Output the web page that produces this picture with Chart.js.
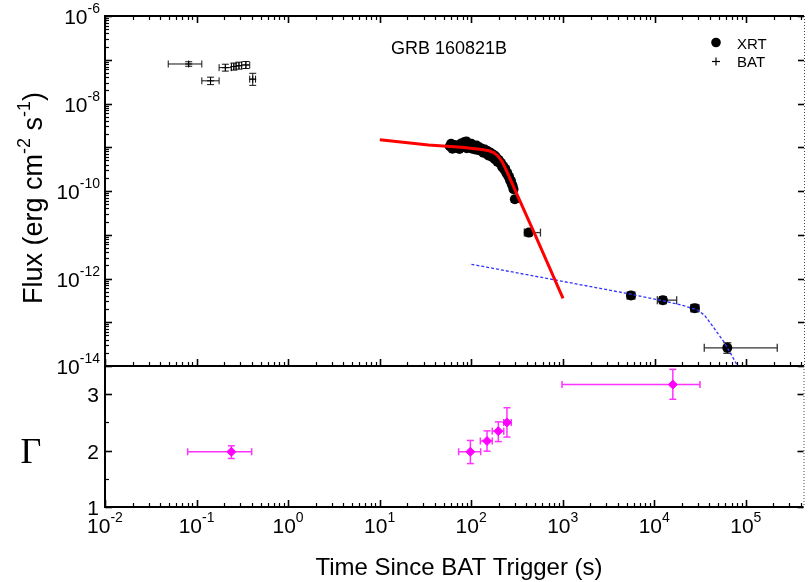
<!DOCTYPE html>
<html><head><meta charset="utf-8">
<script src="https://cdn.jsdelivr.net/npm/chart.js@4/dist/chart.umd.min.js"></script>
<style>
html,body{margin:0;padding:0;background:#fff;overflow:hidden}
#wrap{position:relative;width:809px;height:582px;background:#fff}
canvas{position:absolute;left:0;top:0}
</style>
</head><body>
<div id="wrap"><canvas id="c1" width="809" height="582"></canvas><canvas id="c2" width="809" height="582"></canvas></div>
<script>
// ---------------- data ----------------
const xTickExps = [-2, -1, 0, 1, 2, 3, 4, 5];
const fluxTickExps = [-6, -8, -10, -12, -14];
const gammaTickValues = [1, 2, 3];

// XRT flux light curve (s, erg cm^-2 s^-1)
const xrtTime = [58,60,62,65,68,71,74,77,80,83,86,88,89,92,95,98,100,102,106,110,114,118,122,126,130,135,140,145,150,153,156,162,168,174,180,183,186,192,198,204,210,216,222,228,234,240,246,252,258,264,270,276,282,288,298,423,5520,12300,27400,62100];
const xrtFlux = [1.05e-9,1.2e-9,9.3e-10,1.12e-9,9.8e-10,1.10e-9,9.1e-10,1.22e-9,1.02e-9,1.30e-9,1.10e-9,1.36e-9,9.5e-10,1.15e-9,1.0e-9,1.07e-9,1.2e-9,9.3e-10,1.05e-9,8.9e-10,1.1e-9,8.7e-10,1.0e-9,8.3e-10,9.3e-10,7.5e-10,8.9e-10,7.2e-10,8.2e-10,6.5e-10,6.8e-10,7.5e-10,6.0e-10,6.7e-10,5.3e-10,6.2e-10,5.8e-10,4.7e-10,5.2e-10,4.3e-10,4.4e-10,3.6e-10,3.7e-10,3.1e-10,3.2e-10,2.6e-10,2.6e-10,2.2e-10,2.1e-10,1.75e-10,1.72e-10,1.42e-10,1.30e-10,1.10e-10,6.5e-11,1.12e-11,4.1e-13,3.2e-13,2.1e-13,2.6e-14];
// error bars only for the isolated late points (null = none visible)
const N0 = xrtTime.length - 6;
const nulls = new Array(N0).fill(null);
const xrtTimeLo = nulls.concat([285, 378, 5000, 10700, 24800, 34800]);
const xrtTimeHi = nulls.concat([310, 567, 6100, 17400, 30500, 218000]);
const xrtFluxLo = nulls.concat([5.5e-11, 9.5e-12, 3.4e-13, 2.65e-13, 1.72e-13, 1.95e-14]);
const xrtFluxHi = nulls.concat([7.6e-11, 1.32e-11, 4.9e-13, 3.85e-13, 2.55e-13, 3.4e-14]);

// BAT flux points
const batTime   = [0.082, 0.142, 0.206, 0.255, 0.29, 0.345, 0.41];
const batTimeLo = [0.049, 0.114, 0.176, 0.24, 0.27, 0.31, 0.38];
const batTimeHi = [0.114, 0.176, 0.24, 0.27, 0.31, 0.38, 0.44];
const batFlux   = [8.0e-8, 3.3e-8, 6.6e-8, 7.0e-8, 7.3e-8, 7.6e-8, 3.6e-8];
const batFluxLo = [7.1e-8, 2.7e-8, 5.5e-8, 5.8e-8, 6.1e-8, 6.3e-8, 2.6e-8];
const batFluxHi = [9.0e-8, 4.0e-8, 7.9e-8, 8.4e-8, 8.8e-8, 9.1e-8, 4.9e-8];

// broken power-law fit (red)
const fitTime = [10, 34, 78, 130, 155, 175, 195, 215, 240, 310, 500, 1000];
const fitFlux = [1.48e-9, 1.12e-9, 1.0e-9, 8.9e-10, 8.3e-10, 7.6e-10, 6.3e-10, 4.8e-10, 3.0e-10, 8.9e-11, 9.5e-12, 3.5e-13];

// late component (blue dashed)
const lateTime = [100, 1456, 5520, 12300, 20000, 29300, 35000, 40700, 56900, 79600, 90000];
const lateFlux = [2.11e-12, 7.4e-13, 4.37e-13, 3.09e-13, 2.45e-13, 1.9e-13, 1.45e-13, 9.5e-14, 3.6e-14, 1.05e-14, 6.3e-15];

// photon index Gamma
const gamTime   = [0.24, 98, 149, 198, 246, 15960];
const gamTimeLo = [0.08, 73, 126, 170, 227, 983];
const gamTimeHi = [0.40, 127, 170, 227, 274, 31600];
const gamVal    = [1.98, 1.98, 2.17, 2.345, 2.50, 3.17];
const gamLo     = [1.86, 1.77, 1.99, 2.16, 2.24, 2.91];
const gamHi     = [2.085, 2.18, 2.35, 2.51, 2.76, 3.44];

const X_MIN = 0.01, X_MAX = 4.27e5;
const SANS = "'Liberation Sans', Arial, Helvetica, sans-serif";
const SERIF = "'Liberation Serif', 'Times New Roman', serif";

// ---------------- helpers ----------------
function pts(xs, ys) { return xs.map((x, i) => ({ x: x, y: ys[i] })); }

const errorBarPlugin = {
  id: 'errbars',
  beforeDatasetsDraw(chart) {
    const ctx = chart.ctx;
    const xs = chart.scales.x;
    chart.data.datasets.forEach(ds => {
      const e = ds.errorBars; if (!e) return;
      const ys = chart.scales[ds.yAxisID || 'y'];
      ctx.save();
      ctx.strokeStyle = e.color; ctx.lineWidth = e.width;
      const seg = (a, b, c, d) => { ctx.beginPath(); ctx.moveTo(a, b); ctx.lineTo(c, d); ctx.stroke(); };
      ds.data.forEach((p, i) => {
        const px = xs.getPixelForValue(p.x), py = ys.getPixelForValue(p.y);
        const cap = e.cap;
        if (e.xLo && e.xLo[i] != null) {
          const a = xs.getPixelForValue(e.xLo[i]), b = xs.getPixelForValue(e.xHi[i]);
          seg(a, py, b, py); seg(a, py - cap, a, py + cap); seg(b, py - cap, b, py + cap);
        }
        if (e.yLo && e.yLo[i] != null) {
          const a = ys.getPixelForValue(e.yLo[i]), b = ys.getPixelForValue(e.yHi[i]);
          seg(px, a, px, b); seg(px - cap, a, px + cap, a); seg(px - cap, b, px + cap, b);
        }
      });
      ctx.restore();
    });
  }
};

function drawPow(ctx, base, exp, x, y, align, bs, es, rise) {
  ctx.font = bs + 'px ' + SANS;
  const wb = ctx.measureText(base).width;
  ctx.font = es + 'px ' + SANS;
  const we = ctx.measureText(exp).width;
  const w = wb + we;
  let x0 = align === 'center' ? x - w / 2 : (align === 'right' ? x - w : x);
  ctx.textAlign = 'left'; ctx.textBaseline = 'alphabetic';
  ctx.font = bs + 'px ' + SANS; ctx.fillText(base, x0, y);
  ctx.font = es + 'px ' + SANS; ctx.fillText(exp, x0 + wb, y - rise);
}

function line(ctx, a, b, c, d) { ctx.beginPath(); ctx.moveTo(a, b); ctx.lineTo(c, d); ctx.stroke(); }

function drawXTicks(ctx, xs, yLine, dir) {
  for (let d = -2; d <= 5; d++) {
    for (let k = 1; k <= 9; k++) {
      const v = k * Math.pow(10, d);
      if (v < X_MIN * 0.999 || v > X_MAX) continue;
      const px = Math.round(xs.getPixelForValue(v)) + 0.5;
      const len = k === 1 ? 7 : 4;
      ctx.lineWidth = k === 1 ? 1.6 : 1.2;
      line(ctx, px, yLine, px, yLine + dir * len);
    }
  }
}

// ---------------- upper panel ----------------
const framePluginTop = {
  id: 'frameTop',
  afterDraw(chart) {
    const ctx = chart.ctx, a = chart.chartArea, xs = chart.scales.x, ys = chart.scales.y;
    ctx.save();
    ctx.strokeStyle = '#000'; ctx.fillStyle = '#000';
    ctx.lineWidth = 2;
    line(ctx, a.left, a.top, a.right, a.top);
    line(ctx, a.left, a.top - 1, a.left, a.bottom + 1);
    line(ctx, a.left, a.bottom, a.right, a.bottom);
    ctx.save(); ctx.lineWidth = 1; ctx.strokeStyle = '#444'; ctx.setLineDash([1, 2]);
    line(ctx, a.right + 0.5, a.top, a.right + 0.5, a.bottom); ctx.restore();
    drawXTicks(ctx, xs, a.top, 1);
    drawXTicks(ctx, xs, a.bottom, -1);
    for (let d = -14; d <= -6; d++) {
      for (let k = 1; k <= 9; k++) {
        const v = k * Math.pow(10, d);
        if (v > 1.0001e-6) continue;
        const py = Math.round(ys.getPixelForValue(v)) + 0.5;
        const len = k === 1 ? 7 : 4;
        ctx.lineWidth = k === 1 ? 1.6 : 1.2;
        line(ctx, a.left, py, a.left + len, py);
        if (k === 1) line(ctx, a.right, py, a.right - 6, py);
      }
    }
    fluxTickExps.forEach(e => {
      const py = ys.getPixelForValue(Math.pow(10, e));
      drawPow(ctx, '10', String(e), 100, py + 8, 'right', 21, 14, 11);
    });
    ctx.textAlign = 'left'; ctx.textBaseline = 'alphabetic';
    ctx.font = '18px ' + SANS;
    ctx.fillText('GRB 160821B', 391, 54);
    ctx.beginPath(); ctx.arc(716, 42.5, 4.8, 0, Math.PI * 2); ctx.fill();
    ctx.lineWidth = 1.2;
    line(ctx, 712, 61.5, 720, 61.5); line(ctx, 716, 57.5, 716, 65.5);
    ctx.font = '15px ' + SANS;
    ctx.fillText('XRT', 737, 48.5);
    ctx.fillText('BAT', 737, 67);
    ctx.restore();
  }
};

new Chart(document.getElementById('c1'), {
  type: 'scatter',
  data: {
    datasets: [
      { type: 'line', label: 'fit', data: pts(fitTime, fitFlux), borderColor: '#ff0000', borderWidth: 3,
        pointRadius: 0, fill: false, tension: 0, order: 1, clip: 0 },
      { type: 'line', label: 'late', data: pts(lateTime, lateFlux), borderColor: '#3333ff', borderWidth: 1.3,
        borderDash: [3, 2], pointRadius: 0, fill: false, tension: 0, order: 2, clip: 0 },
      { label: 'XRT', data: pts(xrtTime, xrtFlux), pointStyle: 'circle', pointRadius: 5,
        backgroundColor: '#000', borderColor: '#000', borderWidth: 0, order: 3,
        errorBars: { xLo: xrtTimeLo, xHi: xrtTimeHi, yLo: xrtFluxLo, yHi: xrtFluxHi, color: '#333', width: 1.3, cap: 4 } },
      { label: 'BAT', data: pts(batTime, batFlux), pointStyle: 'cross', pointRadius: 3.5,
        borderColor: '#000', borderWidth: 1, order: 4,
        errorBars: { xLo: batTimeLo, xHi: batTimeHi, yLo: batFluxLo, yHi: batFluxHi, color: '#111', width: 1, cap: 3.5 } }
    ]
  },
  options: {
    responsive: false, animation: false, devicePixelRatio: 1,
    layout: { padding: { left: 105, top: 16, right: 2, bottom: 582 - 366 } },
    plugins: { legend: { display: false }, tooltip: { enabled: false } },
    scales: {
      x: { type: 'logarithmic', min: X_MIN, max: X_MAX, display: false },
      y: { type: 'logarithmic', min: 1e-14, max: 1e-6, display: false }
    }
  },
  plugins: [errorBarPlugin, framePluginTop]
});

// ---------------- lower panel ----------------
const framePluginBottom = {
  id: 'frameBottom',
  afterDraw(chart) {
    const ctx = chart.ctx, a = chart.chartArea, xs = chart.scales.x, ys = chart.scales.y;
    ctx.save();
    ctx.strokeStyle = '#000'; ctx.fillStyle = '#000'; ctx.lineWidth = 2;
    line(ctx, a.left, a.top, a.left, a.bottom + 1);
    line(ctx, a.left, a.bottom, a.right, a.bottom);
    ctx.save(); ctx.lineWidth = 1; ctx.strokeStyle = '#444'; ctx.setLineDash([1, 2]);
    line(ctx, a.right + 0.5, a.top, a.right + 0.5, a.bottom); ctx.restore();
    drawXTicks(ctx, xs, a.bottom, -1);
    [1, 1.5, 2, 2.5, 3].forEach(v => {
      const py = Math.round(ys.getPixelForValue(v)) + 0.5;
      const major = Number.isInteger(v);
      ctx.lineWidth = major ? 1.6 : 1.2;
      line(ctx, a.left, py, a.left + (major ? 7 : 4), py);
      if (major) line(ctx, a.right, py, a.right - 6, py);
    });
    ctx.font = '21px ' + SANS; ctx.textAlign = 'right'; ctx.textBaseline = 'alphabetic';
    gammaTickValues.forEach(v => {
      const py = ys.getPixelForValue(v);
      ctx.fillText(String(v), 99, py + 8);
    });
    xTickExps.forEach(e => {
      const px = xs.getPixelForValue(Math.pow(10, e));
      drawPow(ctx, '10', String(e), px, 533, 'center', 21, 14, 11);
    });
    ctx.font = '24px ' + SANS; ctx.textAlign = 'center';
    ctx.fillText('Time Since BAT Trigger (s)', 459, 575);
    ctx.font = '36px ' + SERIF; ctx.textAlign = 'center';
    ctx.fillText('\u0393', 31, 463);
    ctx.save();
    ctx.translate(42, 198);
    ctx.rotate(-Math.PI / 2);
    const bs = 27, ss = 18, rise = 12;
    const parts = [['Flux (erg cm', bs, 0], ['-2', ss, rise], [' s', bs, 0], ['-1', ss, rise], [')', bs, 0]];
    let tw = 0;
    parts.forEach(p => { ctx.font = p[1] + 'px ' + SANS; tw += ctx.measureText(p[0]).width; });
    let cx = -tw / 2;
    ctx.textAlign = 'left';
    parts.forEach(p => { ctx.font = p[1] + 'px ' + SANS; ctx.fillText(p[0], cx, -p[2]); cx += ctx.measureText(p[0]).width; });
    ctx.restore();
    ctx.restore();
  }
};

new Chart(document.getElementById('c2'), {
  type: 'scatter',
  data: {
    datasets: [
      { label: 'Gamma', data: pts(gamTime, gamVal), pointStyle: 'rectRot', pointRadius: 4.5,
        backgroundColor: '#ff00ff', borderColor: '#ff00ff', borderWidth: 1,
        errorBars: { xLo: gamTimeLo, xHi: gamTimeHi, yLo: gamLo, yHi: gamHi, color: '#ff33ff', width: 1.5, cap: 3.5 } }
    ]
  },
  options: {
    responsive: false, animation: false, devicePixelRatio: 1,
    layout: { padding: { left: 105, top: 366, right: 2, bottom: 582 - 507 } },
    plugins: { legend: { display: false }, tooltip: { enabled: false } },
    scales: {
      x: { type: 'logarithmic', min: X_MIN, max: X_MAX, display: false },
      y: { type: 'linear', min: 1, max: 3.5, display: false }
    }
  },
  plugins: [errorBarPlugin, framePluginBottom]
});
</script>
</body></html>
